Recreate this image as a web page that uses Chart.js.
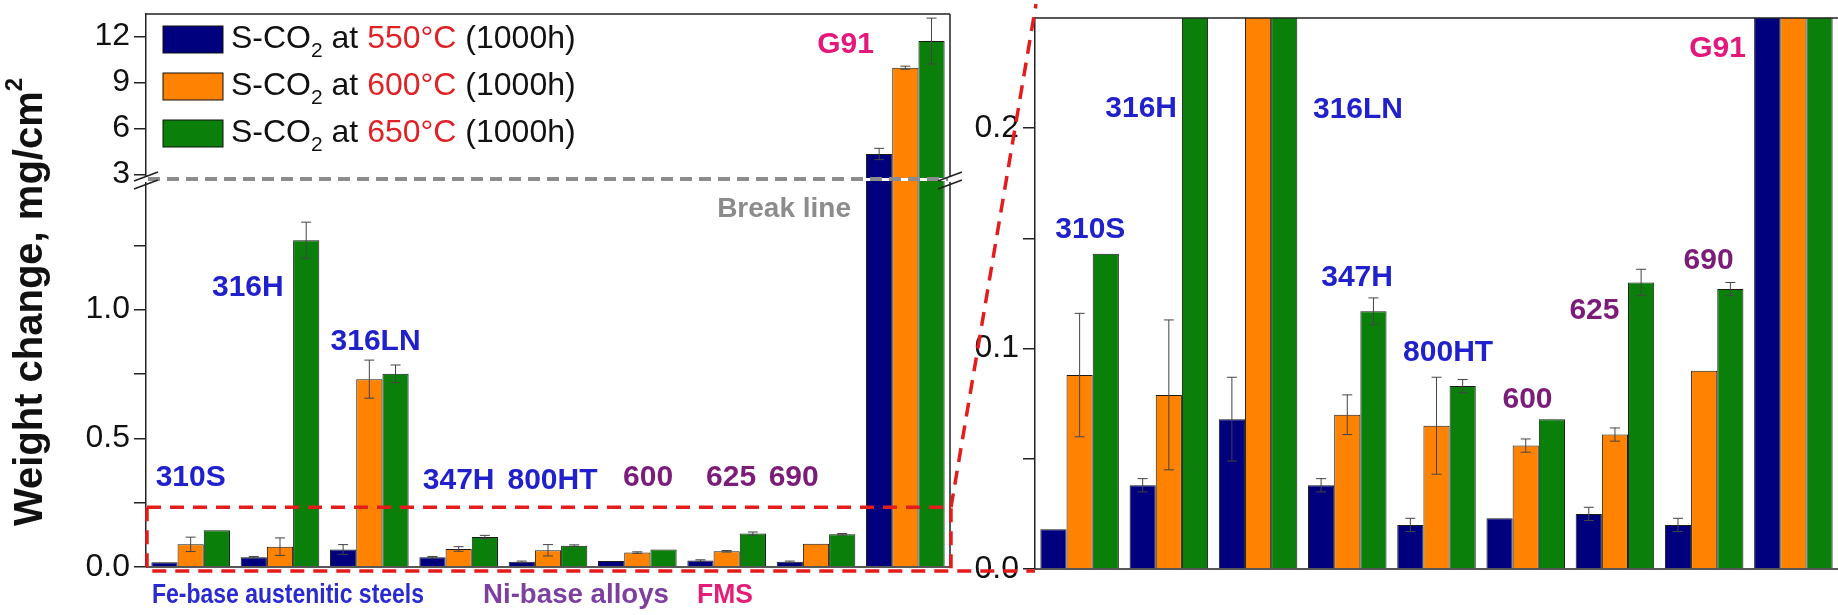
<!DOCTYPE html>
<html>
<head>
<meta charset="utf-8">
<script src="https://cdn.jsdelivr.net/npm/chart.js@4.4.0/dist/chart.umd.min.js"></script>
<style>
  body { margin: 0; background: #fff; }
  #wrap { position: relative; width: 1838px; height: 615px; overflow: hidden; background: #fff; }
  canvas { position: absolute; }
</style>
</head>
<body>
<div id="wrap">
  <canvas id="lower" width="960" height="437" style="left:0;top:178px"></canvas>
  <canvas id="upper" width="960" height="200" style="left:0;top:0"></canvas>
  <canvas id="zoom" width="883" height="615" style="left:955px;top:0"></canvas>
  <canvas id="over" width="1838" height="615" style="left:0;top:0;pointer-events:none"></canvas>
</div>
<script>
// weight change after 1000 h in S-CO2, mg/cm2
const alloys = ["310S", "316H", "316LN", "347H", "800HT", "600", "625", "690", "G91"];
const temps = ["550", "600", "650"];
const gain550 = [0.018, 0.038, 0.068, 0.038, 0.020, 0.023, 0.025, 0.020, 4.33];
const gain600 = [0.088, 0.079, 0.730, 0.070, 0.065, 0.056, 0.061, 0.090, 9.97];
const gain650 = [0.143, 1.270, 0.751, 0.117, 0.083, 0.068, 0.130, 0.127, 11.71];
const err550 = [0, 0.003, 0.019, 0.003, 0.003, 0, 0.003, 0.003, 0.37];
const err600 = [0.028, 0.034, 0.074, 0.009, 0.022, 0.003, 0.003, 0, 0.10];
const err650 = [0, 0.070, 0.034, 0.006, 0.003, 0, 0.006, 0.003, 1.5];
const families = ["Fe-base austenitic steels", "Ni-base alloys", "FMS"];
const familyOf = [0, 0, 0, 0, 0, 1, 1, 1, 2];

// axis ticks
const upperTicks = [3, 6, 9, 12];
const lowerTicks = [0, 0.5, 1.0];
const lowerMinor = [0.25, 0.75, 1.25];
const zoomTicks = [0, 0.1, 0.2];
const zoomMinor = [0.05, 0.15];
const zoomWindow = 0.232;

const gains = [gain550, gain600, gain650];
const errs = [err550, err600, err650];
const barColors = ["#00007e", "#ff8200", "#0a800a"];
const familyColors = ["#2a2ad2", "#7d40a0", "#e41e78"];
const nameColors = ["#2020cc", "#7a1c78", "#e4187a"];
const FONT = "'Liberation Sans', Arial, sans-serif";

function makeSets(keep) {
  return temps.map((t, i) => ({
    label: "S-CO2 at " + t + "°C (1000h)",
    data: gains[i].map((v) => (keep(v) ? v : null)),
    errs: errs[i],
    backgroundColor: barColors[i],
    borderColor: "#1a1a1a",
    borderWidth: 1,
    categoryPercentage: 0.88,
    barPercentage: 1,
  }));
}

function yScale(min, max, major, minor, width, fmt) {
  const all = major.concat(minor).sort((a, b) => a - b);
  return {
    min: min,
    max: max,
    afterFit: (s) => {
      s.width = width;
      s.paddingTop = 0;
      s.paddingBottom = 0;
    },
    afterBuildTicks: (s) => { s.ticks = all.map((v) => ({ value: v })); },
    ticks: {
      autoSkip: false,
      padding: 4,
      color: "#111",
      font: { family: FONT, size: 32 },
      callback: (v) => (major.includes(v) ? fmt(v) : ""),
    },
    grid: { drawOnChartArea: false, tickLength: 12, color: "#222", lineWidth: 1.5 },
    border: { color: "#222", width: 1.5 },
  };
}

const errorBars = {
  id: "errorBars",
  afterDatasetsDraw(chart) {
    const { ctx, chartArea: a } = chart;
    const y = chart.scales.y;
    ctx.save();
    ctx.beginPath();
    ctx.rect(a.left, a.top, a.right - a.left, a.bottom - a.top);
    ctx.clip();
    ctx.strokeStyle = "#444";
    ctx.lineWidth = 1;
    chart.data.datasets.forEach((ds, di) => {
      chart.getDatasetMeta(di).data.forEach((bar, i) => {
        const v = ds.data[i];
        const e = ds.errs[i];
        if (v == null || !e) return;
        const top = y.getPixelForValue(v + e);
        const bot = y.getPixelForValue(v - e);
        ctx.beginPath();
        ctx.moveTo(bar.x, top); ctx.lineTo(bar.x, bot);
        ctx.moveTo(bar.x - 5, top); ctx.lineTo(bar.x + 5, top);
        ctx.moveTo(bar.x - 5, bot); ctx.lineTo(bar.x + 5, bot);
        ctx.stroke();
      });
    });
    ctx.restore();
  },
};

function frame(sides) {
  return {
    id: "frame",
    afterDraw(chart) {
      const { ctx, chartArea: a } = chart;
      ctx.save();
      ctx.strokeStyle = "#222";
      ctx.lineWidth = 1.5;
      ctx.beginPath();
      if (sides.includes("top")) { ctx.moveTo(a.left, a.top); ctx.lineTo(a.right, a.top); }
      if (sides.includes("right")) { ctx.moveTo(a.right, a.top); ctx.lineTo(a.right, a.bottom); }
      if (sides.includes("bottom")) { ctx.moveTo(a.left, a.bottom); ctx.lineTo(a.right, a.bottom); }
      ctx.stroke();
      ctx.restore();
    },
  };
}

// alloy name tags: [alloy index, category position, value]
function names(spots) {
  return {
    id: "names",
    afterDraw(chart) {
      const { ctx } = chart;
      const x = chart.scales.x;
      const y = chart.scales.y;
      const x0 = x.getPixelForValue(0);
      const step = x.getPixelForValue(1) - x0;
      ctx.save();
      ctx.font = "bold 30px " + FONT;
      ctx.textAlign = "center";
      ctx.textBaseline = "middle";
      spots.forEach(([i, at, val]) => {
        ctx.fillStyle = nameColors[familyOf[i]];
        ctx.fillText(alloys[i], x0 + at * step, y.getPixelForValue(val));
      });
      ctx.restore();
    },
  };
}

const legendBox = {
  id: "legendBox",
  afterDraw(chart) {
    const ctx = chart.ctx;
    ctx.save();
    ctx.textBaseline = "middle";
    temps.forEach((t, i) => {
      const cy = 39 + i * 47;
      ctx.fillStyle = barColors[i];
      ctx.fillRect(163, cy - 13, 60, 27);
      ctx.strokeStyle = "#111";
      ctx.lineWidth = 1;
      ctx.strokeRect(163, cy - 13, 60, 27);
      let x = 231;
      const part = (txt, color, size, dy) => {
        ctx.font = size + "px " + FONT;
        ctx.fillStyle = color;
        ctx.fillText(txt, x, cy + dy);
        x += ctx.measureText(txt).width;
      };
      part("S-CO", "#111", 32, 0);
      part("2", "#111", 21, 12);
      part(" at ", "#111", 32, 0);
      part(t + "°C", "#e02226", 32, 0);
      part(" (1000h)", "#111", 32, 0);
    });
    ctx.restore();
  },
};

const common = {
  responsive: false,
  animation: false,
  events: [],
  plugins: { legend: { display: false }, tooltip: { enabled: false } },
};

const upper = new Chart(document.getElementById("upper"), {
  type: "bar",
  data: { labels: alloys, datasets: makeSets((v) => v > 2) },
  options: {
    ...common,
    layout: { padding: { top: 14, right: 10, bottom: 22, left: 0 } },
    scales: {
      x: { display: false, offset: true },
      y: yScale(2.76, 13.48, upperTicks, [], 146, (v) => String(v)),
    },
  },
  plugins: [errorBars, frame(["top", "right"]), names([[8, 7.33, 11.45]]), legendBox],
});

const lower = new Chart(document.getElementById("lower"), {
  type: "bar",
  data: { labels: alloys, datasets: makeSets(() => true) },
  options: {
    ...common,
    layout: { padding: { top: 3, right: 10, bottom: 48, left: 0 } },
    scales: {
      x: { display: false, offset: true },
      y: yScale(0, 1.5, lowerTicks, lowerMinor, 146, (v) => v.toFixed(1)),
    },
  },
  plugins: [
    errorBars,
    frame(["right", "bottom"]),
    names([
      [0, 0, 0.345], [1, 0.64, 1.085], [2, 2.07, 0.875], [3, 3, 0.337],
      [4, 4.05, 0.337], [5, 5.12, 0.345], [6, 6.05, 0.345], [7, 6.75, 0.345],
    ]),
  ],
});

const zoom = new Chart(document.getElementById("zoom"), {
  type: "bar",
  data: { labels: alloys, datasets: makeSets(() => true) },
  options: {
    ...common,
    layout: { padding: { top: 18, right: 0, bottom: 46, left: 0 } },
    scales: {
      x: { display: false, offset: true },
      y: yScale(0, 0.25, zoomTicks, zoomMinor, 80, (v) => v.toFixed(1)),
    },
  },
  plugins: [
    errorBars,
    frame(["top", "bottom"]),
    names([
      [0, 0.12, 0.154], [1, 0.69, 0.209], [2, 3.12, 0.2085], [3, 3.11, 0.132],
      [4, 4.13, 0.098], [5, 5.02, 0.0766], [6, 5.77, 0.117], [7, 7.05, 0.140], [8, 7.15, 0.236],
    ]),
  ],
});

// overlay: axis title, break marks, zoom window and group captions
function drawOverlay() {
  const ctx = document.getElementById("over").getContext("2d");
  const lowTop = 178;
  const ua = upper.chartArea;
  const la = lower.chartArea;
  const za = zoom.chartArea;
  const zLeft = 955 + za.left;
  const breakY = ua.bottom + 1;

  // y axis title
  ctx.save();
  ctx.translate(31, 302);
  ctx.rotate(-Math.PI / 2);
  ctx.fillStyle = "#111";
  ctx.textBaseline = "middle";
  ctx.font = "bold 40px " + FONT;
  const main = "Weight change, mg/cm";
  const w1 = ctx.measureText(main).width;
  ctx.font = "bold 24px " + FONT;
  const w2 = ctx.measureText("2").width;
  ctx.font = "bold 40px " + FONT;
  ctx.fillText(main, -(w1 + w2) / 2, 0);
  ctx.font = "bold 24px " + FONT;
  ctx.fillText("2", -(w1 + w2) / 2 + w1, -16);
  ctx.restore();

  // break line
  ctx.save();
  ctx.strokeStyle = "#8c8c8c";
  ctx.lineWidth = 4;
  ctx.setLineDash([12, 7]);
  ctx.beginPath();
  ctx.moveTo(ua.left + 2, breakY);
  ctx.lineTo(ua.right - 2, breakY);
  ctx.stroke();
  ctx.restore();
  ctx.save();
  ctx.fillStyle = "#8c8c8c";
  ctx.font = "bold 28px " + FONT;
  ctx.textAlign = "right";
  ctx.textBaseline = "middle";
  ctx.fillText("Break line", 851, 209);
  ctx.restore();

  // axis break slashes
  [ua.left, ua.right].forEach((bx) => {
    ctx.save();
    ctx.fillStyle = "#fff";
    ctx.fillRect(bx - 2, breakY - 3, 4, 6);
    ctx.strokeStyle = "#222";
    ctx.lineWidth = 1.5;
    ctx.beginPath();
    ctx.moveTo(bx - 12, breakY + 2); ctx.lineTo(bx + 12, breakY - 7);
    ctx.moveTo(bx - 12, breakY + 10); ctx.lineTo(bx + 12, breakY + 1);
    ctx.stroke();
    ctx.restore();
  });

  // zoom window and connectors
  const rTop = lowTop + lower.scales.y.getPixelForValue(zoomWindow);
  const rBot = lowTop + la.bottom + 4;
  const rL = la.left + 1;
  const rR = la.right + 1;
  ctx.save();
  ctx.strokeStyle = "#e41c1c";
  ctx.lineWidth = 3.5;
  ctx.setLineDash([14, 9]);
  ctx.beginPath();
  ctx.moveTo(rL, rTop); ctx.lineTo(rR, rTop); ctx.lineTo(rR, rBot);
  ctx.moveTo(rL, rTop); ctx.lineTo(rL, rBot); ctx.lineTo(zLeft, rBot);
  ctx.moveTo(rR, rTop); ctx.lineTo(zLeft + 1, za.top - 14);
  ctx.stroke();
  ctx.restore();

  // family captions, squeezed to the printed widths
  ctx.save();
  ctx.font = "bold 28px " + FONT;
  ctx.textBaseline = "middle";
  const capX = [152, 483, 697];
  const capW = [272, 186, 56];
  families.forEach((f, i) => {
    const k = Math.min(1, capW[i] / ctx.measureText(f).width);
    ctx.save();
    ctx.translate(capX[i], 595);
    ctx.scale(k, 1);
    ctx.fillStyle = familyColors[i];
    ctx.fillText(f, 0, 0);
    ctx.restore();
  });
  ctx.restore();
}

drawOverlay();
</script>
</body>
</html>
